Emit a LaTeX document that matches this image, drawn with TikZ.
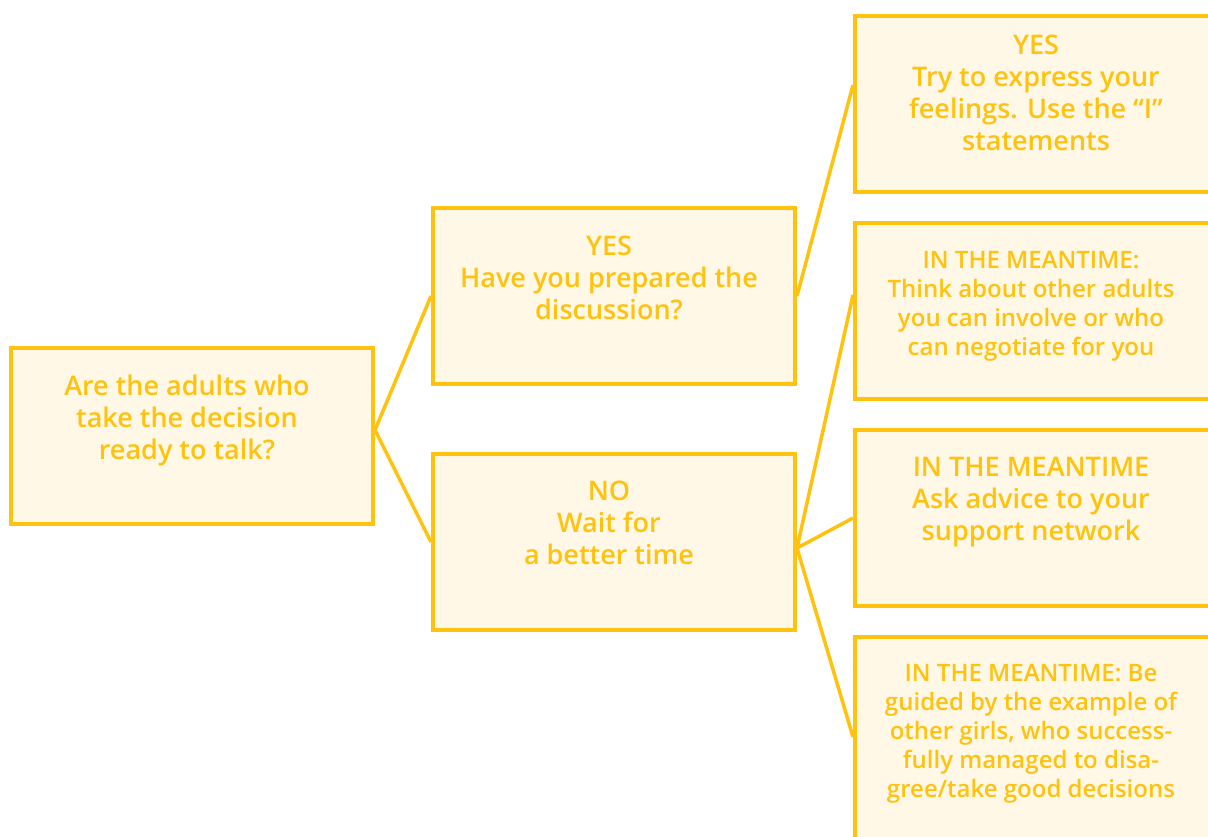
\documentclass[tikz,border=0pt]{standalone}
\usepackage{fontspec}
\setmainfont{Open Sans}[BoldFont={* Semibold}]
\definecolor{gold}{HTML}{FFC20E}
\definecolor{cream}{HTML}{FFF8E6}
\tikzset{
  box/.style={draw=gold, fill=cream, line width=2pt, minimum width=181pt, minimum height=88pt, inner sep=0pt},
  tallbox/.style={box, minimum height=108pt},
  txt/.style={text=gold, align=center, inner sep=0pt, font=\bfseries\fontsize{13.5}{16}\selectfont},
  small/.style={font=\bfseries\fontsize{12}{14.5}\selectfont},
  link/.style={draw=gold, line width=1.75pt}
}
\begin{document}
\begin{tikzpicture}[x=0.5pt, y=-0.5pt]
      \useasboundingbox (0,0) rectangle (1208,836);
      % boxes
      \node[box] (root) at (192, 436) {};
      \node[box] (yes) at (614, 296) {};
      \node[box] (no) at (614, 542) {};
      \node[box] (feel) at (1036, 104) {};
      \node[box] (adults) at (1036, 311) {};
      \node[box] (advice) at (1036, 518) {};
      \node[tallbox] (girls) at (1036, 745) {};
      % texts
      \node[txt] (rootT) at (187, 420) {Are the adults who\\take the decision\\ready to talk?};
      \node[txt] (yesT) at (609, 278) {YES\\Have you prepared the\\discussion?};
      \node[txt] (noT) at (609, 523) {NO\\Wait for\\a better time};
      \node[txt] (feelT) at (1036, 93) {YES\\Try to express your\\feelings. Use the “I”\\statements};
      \node[txt, small] (adultsT) at (1031, 306) {IN THE MEANTIME:\\Think about other adults\\you can involve or who\\can negotiate for you};
      \node[txt] (adviceT) at (1031, 502) {IN THE MEANTIME\\Ask advice to your\\support network};
      \node[txt, small] (girlsT) at (1031, 734) {IN THE MEANTIME: Be\\guided by the example of\\other girls, who success-\\fully managed to disa-\\gree/take good decisions};
      % connectors
      \draw[link] ([yshift=3pt]root.east) -- (yes.west);
      \draw[link] ([yshift=3pt]root.east) -- (no.west);
      \draw[link] (yes.east) -- ([yshift=9.5pt]feel.west);
      \draw[link] ([yshift=-3pt]no.east) -- ([yshift=8pt]adults.west);
      \draw[link] ([yshift=-3pt]no.east) -- (advice.west);
      \draw[link] ([yshift=-3pt]no.east) -- ([yshift=4pt]girls.west);
\end{tikzpicture}
\end{document}
